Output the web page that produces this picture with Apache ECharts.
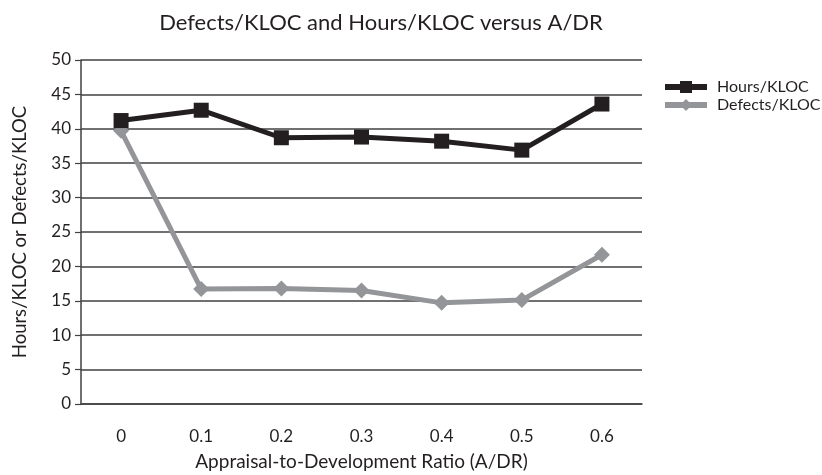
<!DOCTYPE html>
<html>
<head>
<meta charset="utf-8">
<script src="https://cdn.jsdelivr.net/npm/echarts@6/dist/echarts.min.js"></script>
<style>
  html, body { margin: 0; padding: 0; background: #fff; }
  #chart { width: 822px; height: 475px; }
</style>
</head>
<body>
<div id="chart"></div>
<script>
// Appraisal-to-development ratio categories
const ratios = ['0', '0.1', '0.2', '0.3', '0.4', '0.5', '0.6'];
// Hours spent per thousand lines of code
const hoursPerKloc = [41.2, 42.7, 38.7, 38.8, 38.2, 36.9, 43.6];
// Defects found per thousand lines of code
const defectsPerKloc = [39.7, 16.7, 16.8, 16.5, 14.7, 15.1, 21.7];

const FONT = 'Lato, "Open Sans", sans-serif';
const TEXT = '#231f20';
const AXIS = '#414042';
const HOURS_COLOR = '#231f20';
const DEFECTS_COLOR = '#939598';

const chart = echarts.init(document.getElementById('chart'), null, { renderer: 'canvas' });

chart.setOption({
  animation: false,
  backgroundColor: '#ffffff',
  title: {
    text: 'Defects/KLOC and Hours/KLOC versus A/DR',
    left: 376,
    top: 7,
    textAlign: 'center',
    textStyle: { fontFamily: FONT, fontSize: 22, fontWeight: 'normal', color: TEXT }
  },
  legend: {
    orient: 'vertical',
    left: 657,
    top: 74,
    itemWidth: 42,
    itemHeight: 15,
    itemGap: 2,
    textStyle: { fontFamily: FONT, fontSize: 16, color: TEXT, padding: [0, 0, 0, 5] },
    data: [
      { name: 'Hours/KLOC', lineStyle: { width: 6, color: HOURS_COLOR } },
      { name: 'Defects/KLOC', lineStyle: { width: 6, color: DEFECTS_COLOR } }
    ]
  },
  grid: { left: 81, right: 180, top: 60, bottom: 71, outerBoundsMode: 'none' },
  xAxis: {
    type: 'category',
    data: ratios,
    boundaryGap: true,
    name: 'Appraisal-to-Development Ratio (A/DR)',
    nameLocation: 'middle',
    nameGap: 48,
    nameTextStyle: { fontFamily: FONT, fontSize: 19, color: TEXT },
    axisLine: { lineStyle: { color: AXIS, width: 1.5 } },
    axisTick: { show: false },
    axisLabel: { fontFamily: FONT, fontSize: 17, color: TEXT, margin: 24 }
  },
  yAxis: {
    type: 'value',
    min: 0,
    max: 50,
    interval: 5,
    name: 'Hours/KLOC or Defects/KLOC',
    nameLocation: 'middle',
    nameGap: 51,
    nameTextStyle: { fontFamily: FONT, fontSize: 18.5, color: TEXT },
    axisLine: { show: true, lineStyle: { color: AXIS, width: 1.5 } },
    axisTick: { show: true, length: 6, lineStyle: { color: AXIS, width: 1.2 } },
    axisLabel: { fontFamily: FONT, fontSize: 17, color: TEXT, margin: 10 },
    splitLine: { lineStyle: { color: AXIS, width: 1.5 } }
  },
  series: [
    {
      name: 'Hours/KLOC',
      type: 'line',
      data: hoursPerKloc,
      symbol: 'rect',
      symbolSize: 15,
      lineStyle: { color: HOURS_COLOR, width: 5 },
      itemStyle: { color: HOURS_COLOR },
      z: 3
    },
    {
      name: 'Defects/KLOC',
      type: 'line',
      data: defectsPerKloc,
      symbol: 'diamond',
      symbolSize: 16,
      lineStyle: { color: DEFECTS_COLOR, width: 5 },
      itemStyle: { color: DEFECTS_COLOR },
      z: 2
    }
  ]
});
</script>
</body>
</html>
